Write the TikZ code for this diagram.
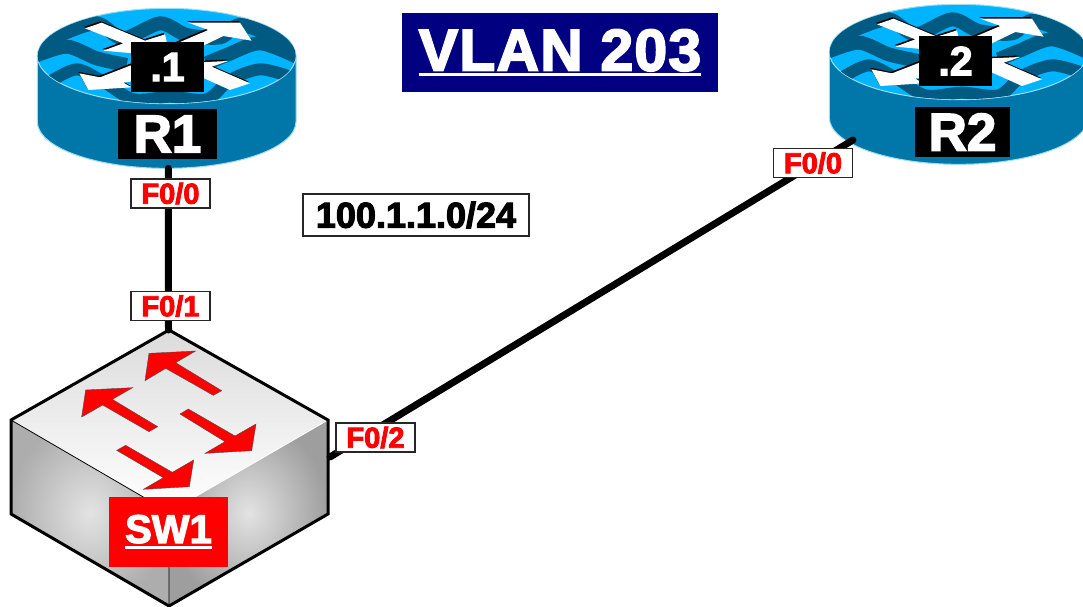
\documentclass[tikz,border=0pt]{standalone}
\usepackage{fontspec}
\setmainfont{Liberation Sans}[BoldFeatures={FakeBold=3}]
\definecolor{bodyblue}{HTML}{0077A8}
\definecolor{topblue}{HTML}{00B4FF}
\definecolor{waveblue}{HTML}{005A82}
\definecolor{rimblue}{HTML}{9FDCF2}
\definecolor{vlannavy}{HTML}{000080}
\newcommand{\iconarrow}[1]{
    \fill[black,xshift=-1pt,yshift=1.5pt] #1 -- cycle;
    \fill[white] #1 -- cycle;
}
\newcommand{\ulined}[3]{\setbox0=\hbox{#3}\rlap{\rule[#1]{\wd0}{#2}}\box0}
\tikzset{
    router/.pic={
        \begin{scope}[x=1pt/3,y=-1pt/3]
        \fill[bodyblue,draw=rimblue,line width=1pt] (52,168) -- (52,365)
            arc[start angle=180,end angle=0,x radius=388,y radius=140] -- (828,168) -- cycle;
        \fill[topblue,draw=rimblue,line width=1pt] (440,168) ellipse [x radius=388,y radius=143];
        \begin{scope}
            \clip (440,168) ellipse [x radius=387,y radius=142];
            \draw[waveblue,line width=14pt,smooth] plot coordinates {(60,135) (130,100) (230,70) (310,115) (420,70) (500,105) (600,112) (660,75) (770,110) (840,135)};
            \draw[waveblue,line width=14pt,smooth] plot coordinates {(40,170) (140,140) (230,175) (320,195)};
            \draw[waveblue,line width=14pt,smooth] plot coordinates {(560,190) (620,165) (720,130) (830,170)};
            \draw[waveblue,line width=12pt,smooth] plot coordinates {(90,245) (170,208) (250,245) (340,298) (450,290) (560,298) (630,240) (720,208) (810,230)};
        \end{scope}
        \iconarrow{(195,85) -- (245,68) -- (375,122) -- (435,103) -- (450,170) -- (250,152) -- (310,130)}
        \iconarrow{(505,68) -- (660,68) -- (695,122) -- (610,108) -- (440,190) -- (400,160) -- (565,90)}
        \iconarrow{(205,270) -- (178,220) -- (240,232) -- (400,170) -- (430,230) -- (310,248) -- (335,262)}
        \iconarrow{(690,250) -- (630,270) -- (530,225) -- (470,245) -- (470,190) -- (625,183) -- (575,200)}
        \coordinate (-down) at (445,505);
        \coordinate (-side) at (123,432);
        \end{scope}
    },
    switchbox/.pic={
        \shade[inner color=black!11,outer color=black!32] (11,420) -- (169,512) -- (169,606) -- (11,514) -- cycle;
        \shade[inner color=black!11,outer color=black!38] (169,512) -- (328,420) -- (328,514) -- (169,606) -- cycle;
        \shade[top color=black!14,bottom color=white] (169,330) -- (328,420) -- (169,512) -- (11,420) -- cycle;
        \draw[black,line width=.8pt] (11,420) -- (169,512) -- (169,606);
        \draw[white,line width=.8pt] (169,512) -- (328,420);
        \draw[black,line width=3pt,line join=miter] (169,330) -- (328,420) -- (328,514) -- (169,606) -- (11,514) -- (11,420) -- cycle;
        \begin{scope}[x=1pt/3,y=-1pt/3,yshift=-320pt,fill=red,draw=black!70,line width=.4pt]
        \filldraw (447,100) -- (587,93) -- (527,128) -- (665,212) -- (640,226) -- (497,145) -- (435,182) -- cycle;
        \filldraw (257,210) -- (398,203) -- (337,238) -- (473,320) -- (447,335) -- (308,255) -- (245,291) -- cycle;
        \filldraw (565,267) -- (705,348) -- (768,312) -- (755,392) -- (615,400) -- (675,365) -- (540,282) -- cycle;
        \filldraw (377,376) -- (517,457) -- (581,420) -- (568,500) -- (430,508) -- (490,473) -- (350,391) -- cycle;
        \end{scope}
        \coordinate (-up) at (168.5,330);
        \coordinate (-side) at (330,457);
    }
}
\begin{document}
\begin{tikzpicture}[x=1pt, y=-1pt]
        \tikzstyle{port}=[draw=black!85, line width=1.2pt, fill=white, text=red, font=\bfseries\fontsize{29}{29}\selectfont, minimum width=79pt, minimum height=29pt, inner sep=0pt]
        \tikzstyle{tag}=[fill=black, text=white, font=\bfseries, inner sep=0pt]
        \tikzstyle{link}=[line width=7pt, line cap=round]

        \useasboundingbox (0,0) rectangle (1083,607);

        \pic (R1) at (20,0) {router};
        \pic (R2) at (812,-4) {router};
        \pic (SW1) at (0,0) {switchbox};

        \draw[link] (R1-down) -- (SW1-up);
        \draw[link] (R2-side) -- (SW1-side);

        \node[tag, minimum width=73pt, minimum height=50pt, font=\bfseries\fontsize{41}{41}\selectfont](dot1) at (167.5,67){.1};
        \node[tag, minimum width=99pt, minimum height=50pt, font=\bfseries\fontsize{53}{53}\selectfont](nameR1) at (167.5,134){R1};
        \node[tag, minimum width=73pt, minimum height=50pt, font=\bfseries\fontsize{41}{41}\selectfont](dot2) at (955.5,61){.2};
        \node[tag, minimum width=95pt, minimum height=50pt, font=\bfseries\fontsize{53}{53}\selectfont](nameR2) at (962.5,132){R2};

        \node[port](r1f0) at (170.5,193.5){F0/0};
        \node[port](sw1f1) at (170.5,306){F0/1};
        \node[port](r2f0) at (813,163){F0/0};
        \node[port](sw1f2) at (375.5,437.5){F0/2};

        \node[fill=red, text=white, minimum width=119pt, minimum height=70pt, inner sep=0pt, font=\bfseries\fontsize{40}{40}\selectfont](nameSW1) at (168.5,532){\ulined{-6pt}{2.5pt}{SW1}};
        \node[fill=vlannavy, text=white, minimum width=316pt, minimum height=79pt, inner sep=0pt, font=\bfseries\fontsize{59}{59}\selectfont](title) at (560,52.5){\ulined{-5pt}{3pt}{\addfontfeature{LetterSpace=2}VLAN 203}};
        \node[draw=black!85, line width=1.2pt, fill=white, minimum width=226pt, minimum height=42pt, inner sep=0pt, font=\bfseries\fontsize{36}{36}\selectfont](subnet) at (416,215){100.1.1.0/24};
\end{tikzpicture}
\end{document}
